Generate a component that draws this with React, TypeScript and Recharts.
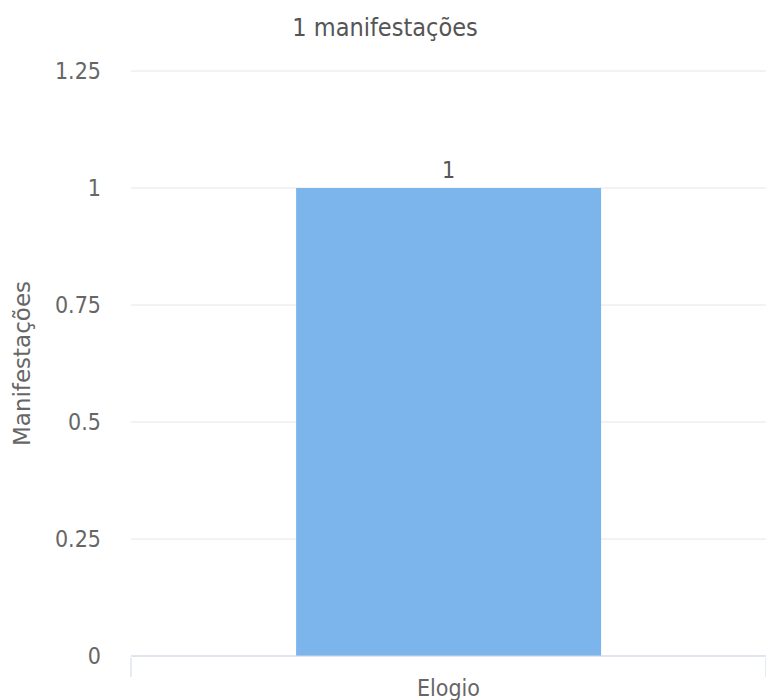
import { Bar, BarChart, CartesianGrid, LabelList, XAxis, YAxis } from "recharts";

const TITLE = "1 manifestações";
const Y_LABEL = "Manifestações";
const CATEGORIES = ["Elogio"];
const VALUES = [1];
const Y_TICKS = [0, 0.25, 0.5, 0.75, 1, 1.25];

const W = 766;
const H = 700;
const Y_AXIS_W = 131;
const BAND = (W - Y_AXIS_W) / CATEGORIES.length;

const FONT = "'DejaVu Sans', sans-serif";
const FONT_C = "'DejaVu Sans Condensed', 'DejaVu Sans', sans-serif";

const rows = CATEGORIES.map((name, i) => ({ name, value: VALUES[i] }));

// highcharts-style ticks sit on the band edges, not the centre
function CategoryTick(props: any) {
  const { x, y, payload } = props;
  const half = BAND / 2;
  return (
    <g>
      <line x1={x - half} x2={x - half} y1={y} y2={y + 19} stroke="#ccd6eb" />
      <line x1={x + half} x2={x + half} y1={y} y2={y + 19} stroke="#ccd6eb" />
      <text
        x={x}
        y={y}
        dy={38}
        textAnchor="middle"
        fill="#666666"
        fontSize={23}
        fontFamily={FONT_C}
      >
        {payload.value}
      </text>
    </g>
  );
}

export default function App() {
  return (
    <div style={{ position: "absolute", left: 0, top: 0, width: W, height: H, background: "#fff" }}>
      <div
        style={{
          position: "absolute",
          top: 13,
          left: 2,
          width: W,
          textAlign: "center",
          fontFamily: FONT_C,
          fontSize: 25,
          color: "#555555",
          lineHeight: "30px",
        }}
      >
        {TITLE}
      </div>
      <BarChart
        width={W}
        height={H}
        data={rows}
        margin={{ top: 71, right: 0, bottom: 0, left: 0 }}
        barCategoryGap="26%"
      >
        <CartesianGrid stroke="#e6e6e6" vertical={false} />
        <XAxis
          dataKey="name"
          height={44}
          axisLine={{ stroke: "#ccd6eb" }}
          tickLine={false}
          tickSize={0}
          tick={<CategoryTick />}
        />
        <YAxis
          width={Y_AXIS_W}
          domain={[0, 1.25]}
          ticks={Y_TICKS}
          axisLine={false}
          tickLine={false}
          tickSize={0}
          tickMargin={30}
          tick={{ fill: "#666666", fontSize: 23, fontFamily: FONT_C }}
          label={{
            value: Y_LABEL,
            angle: -90,
            position: "insideLeft",
            offset: 22,
            style: { textAnchor: "middle", fill: "#666666", fontSize: 23, fontFamily: FONT },
          }}
        />
        <Bar dataKey="value" fill="#7cb5ec" isAnimationActive={false}>
          <LabelList
            dataKey="value"
            position="top"
            offset={10}
            fill="#555555"
            fontSize={23}
            fontFamily={FONT_C}
          />
        </Bar>
      </BarChart>
    </div>
  );
}
